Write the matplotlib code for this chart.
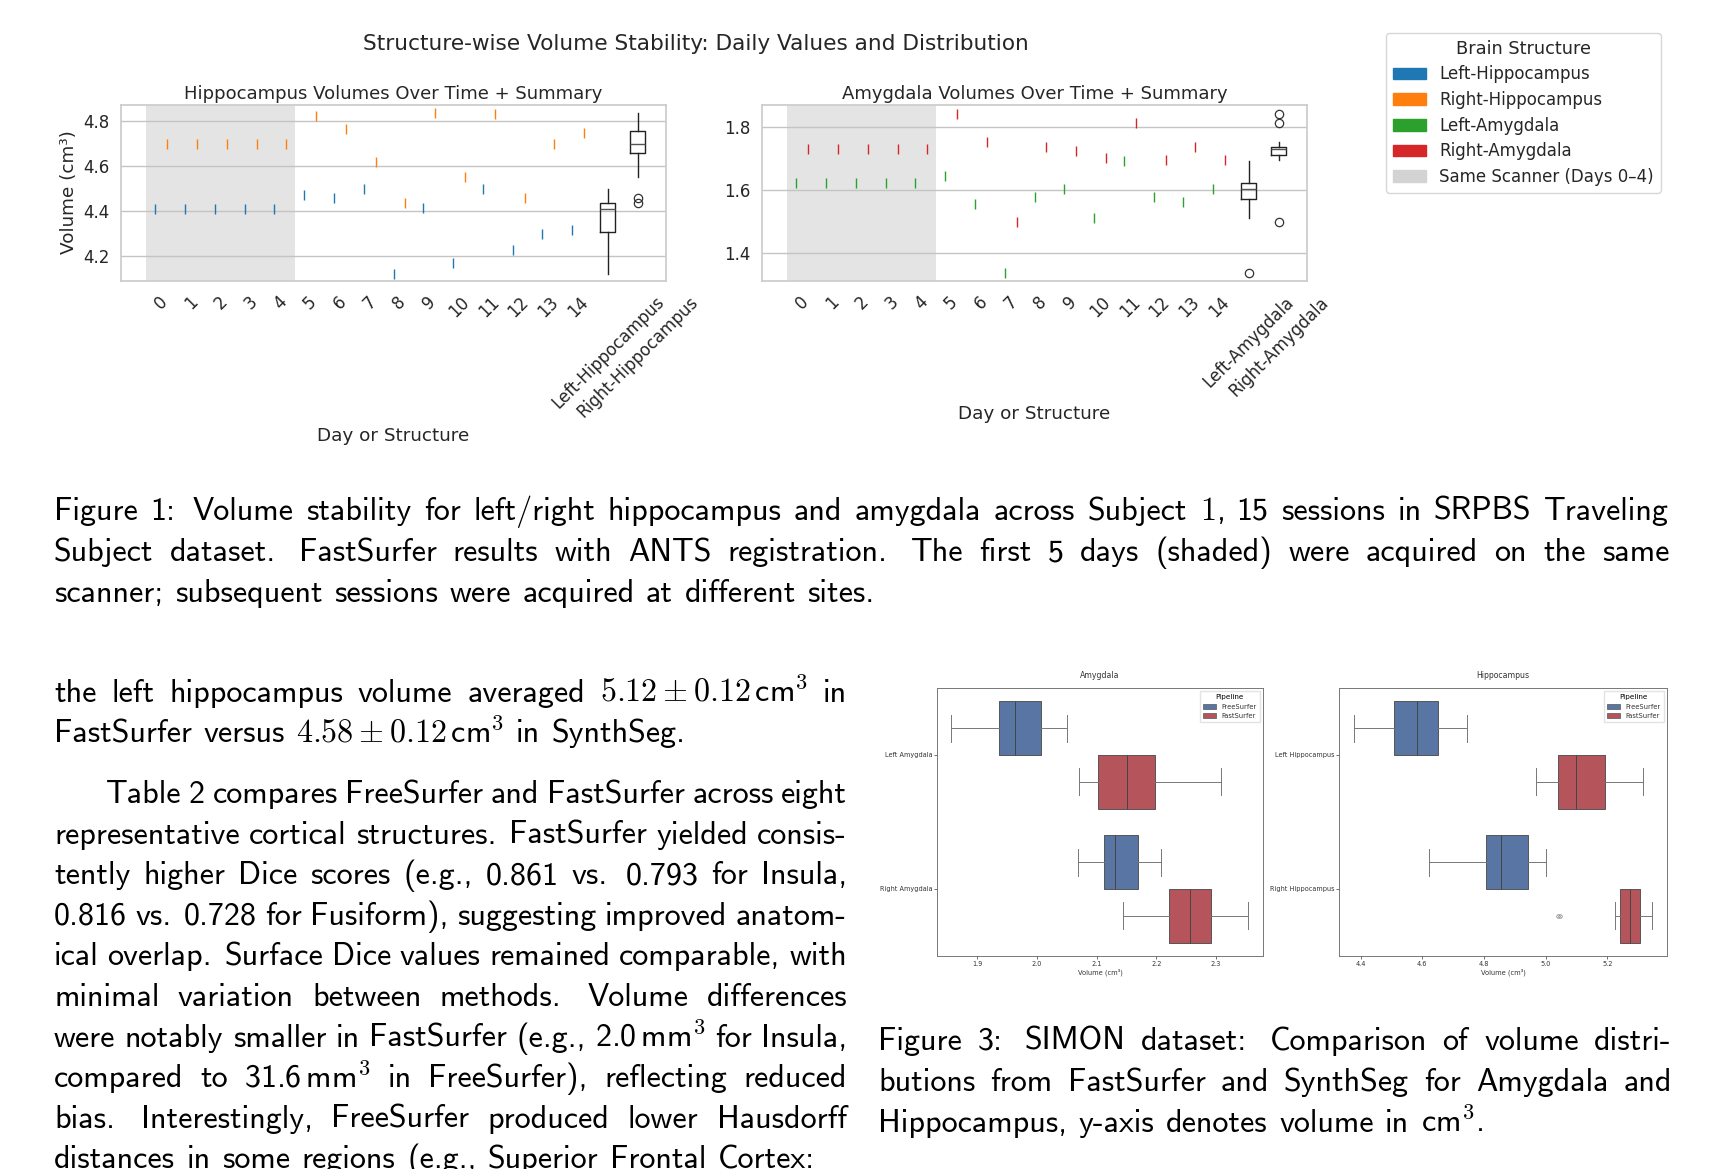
import matplotlib
matplotlib.use("Agg")
import matplotlib.pyplot as plt
from matplotlib.patches import Patch
import numpy as np

W, H, DPI = 1725, 1169, 100

# ---- Figure 1: daily volumes (cm^3) ----
days = np.arange(15)
left_hippo = [4.41, 4.41, 4.41, 4.41, 4.41, 4.47, 4.46, 4.50, 4.12, 4.415,
              4.17, 4.50, 4.23, 4.30, 4.315]
right_hippo = [4.70, 4.70, 4.70, 4.70, 4.70, 4.82, 4.765, 4.62, 4.435, 4.835,
               4.55, 4.83, 4.46, 4.70, 4.745]
left_amyg = [1.62, 1.62, 1.62, 1.62, 1.62, 1.645, 1.555, 1.337, 1.577, 1.604,
             1.51, 1.69, 1.578, 1.562, 1.602]
right_amyg = [1.73, 1.73, 1.73, 1.73, 1.73, 1.84, 1.75, 1.497, 1.735, 1.722,
              1.70, 1.81, 1.694, 1.737, 1.694]

# ---- Figure 3: box stats (whislo, q1, med, q3, whishi) ----
pipelines = ["FreeSurfer", "FastSurfer"]
amyg_labels = ["Left Amygdala", "Right Amygdala"]
hippo_labels = ["Left Hippocampus", "Right Hippocampus"]
amyg_free = [[1.857, 1.936, 1.964, 2.007, 2.051],
             [2.069, 2.112, 2.131, 2.169, 2.208]]
amyg_fast = [[2.071, 2.102, 2.151, 2.198, 2.308],
             [2.144, 2.221, 2.257, 2.291, 2.354]]
hippo_free = [[4.378, 4.507, 4.584, 4.650, 4.744],
              [4.622, 4.806, 4.856, 4.941, 5.002]]
hippo_fast = [[4.970, 5.039, 5.098, 5.191, 5.314],
              [5.225, 5.241, 5.274, 5.307, 5.343]]
hippo_fast_fliers = [[], [5.039, 5.046]]

# ---- page text ----
caption1 = [
    "Figure 1: Volume stability for left/right hippocampus and amygdala across Subject $1$, 15 sessions in SRPBS Traveling",
    "Subject dataset. FastSurfer results with ANTS registration. The first 5 days (shaded) were acquired on the same",
    "scanner; subsequent sessions were acquired at different sites.",
]
para1 = [
    r"the left hippocampus volume averaged $5.12\pm0.12\,\mathsf{cm}^3$ in",
    r"FastSurfer versus $4.58\pm0.12\,\mathsf{cm}^3$ in SynthSeg.",
]
para2 = [
    "Table 2 compares FreeSurfer and FastSurfer across eight",
    "representative cortical structures. FastSurfer yielded consis-",
    "tently higher Dice scores (e.g., 0.861 vs. 0.793 for Insula,",
    "0.816 vs. 0.728 for Fusiform), suggesting improved anatom-",
    "ical overlap. Surface Dice values remained comparable, with",
    "minimal variation between methods. Volume differences",
    r"were notably smaller in FastSurfer (e.g., 2.0$\,$mm$^{3}$ for Insula,",
    r"compared to 31.6$\,$mm$^{3}$ in FreeSurfer), reflecting reduced",
    "bias. Interestingly, FreeSurfer produced lower Hausdorff",
    "distances in some regions (e.g., Superior Frontal Cortex:",
]
caption3 = [
    "Figure 3: SIMON dataset: Comparison of volume distri-",
    "butions from FastSurfer and SynthSeg for Amygdala and",
    r"Hippocampus, y-axis denotes volume in cm$^{3}$.",
]

plt.rcParams["mathtext.fontset"] = "cm"
TXT = "#262626"
BLUE, ORANGE, GREEN, RED = "#1f77b4", "#ff7f0e", "#2ca02c", "#d62728"
SB_BLUE, SB_RED, SB_LINE = "#5875A4", "#B5545B", "#555555"

fig = plt.figure(figsize=(W / DPI, H / DPI), dpi=DPI)
fig.patch.set_facecolor("white")
renderer = fig.canvas.get_renderer()


def px_axes(x0, y0, x1, y1):
    return fig.add_axes([x0 / W, 1 - y1 / H, (x1 - x0) / W, (y1 - y0) / H])


def day_panel(ax, left, right, names, colors, title, ylim, yticks):
    ax.axvspan(-0.5, 4.5, color="lightgray", alpha=0.6, lw=0, zorder=0.2)
    ax.plot(days - 0.2, left, ls="none", marker="|", ms=7.5, mew=1.0,
            color=colors[0], zorder=3)
    ax.plot(days + 0.2, right, ls="none", marker="|", ms=7.5, mew=1.0,
            color=colors[1], zorder=3)
    line = dict(color="#222222", lw=1.0)
    ax.boxplot([left, right], positions=[15, 16], widths=0.5, showcaps=False,
               boxprops=line, whiskerprops=line,
               medianprops=dict(color="#555555", lw=1.0),
               flierprops=dict(marker="o", mfc="none", mec="#333333",
                               ms=6, mew=0.9),
               manage_ticks=False)
    ax.set_xlim(-1.35, 16.95)
    ax.set_ylim(*ylim)
    ax.set_yticks(yticks)
    ax.set_xticks(np.arange(17))
    ax.set_xticklabels([str(d) for d in days] + names, rotation=45)
    ax.grid(axis="y", color="#c4c4c4", lw=1.0)
    ax.set_axisbelow(True)
    ax.tick_params(length=0, labelsize=12, colors=TXT)
    ax.tick_params(axis="x", pad=9)
    ax.tick_params(axis="y", pad=8)
    for s in ax.spines.values():
        s.set_color("#cccccc")
        s.set_linewidth(1.25)
    ax.set_title(title, fontsize=13, color=TXT, pad=4)
    ax.set_xlabel("Day or Structure", fontsize=13.2, color=TXT)


ax1 = px_axes(121, 104.5, 666, 280.5)
day_panel(ax1, left_hippo, right_hippo, ["Left-Hippocampus", "Right-Hippocampus"],
          (BLUE, ORANGE), "Hippocampus Volumes Over Time + Summary",
          (4.093, 4.873), [4.2, 4.4, 4.6, 4.8])
ax1.set_ylabel("Volume (cm³)", fontsize=13.2, color=TXT)

ax2 = px_axes(762, 104.5, 1307, 280.5)
day_panel(ax2, left_amyg, right_amyg, ["Left-Amygdala", "Right-Amygdala"],
          (GREEN, RED), "Amygdala Volumes Over Time + Summary",
          (1.313, 1.870), [1.4, 1.6, 1.8])

fig.text(696 / W, 1 - 44 / H,
         "Structure-wise Volume Stability: Daily Values and Distribution",
         ha="center", va="center", fontsize=15.6, color=TXT)

handles = [Patch(color=c) for c in (BLUE, ORANGE, GREEN, RED, "lightgray")]
leg = fig.legend(handles, ["Left-Hippocampus", "Right-Hippocampus", "Left-Amygdala",
                           "Right-Amygdala", "Same Scanner (Days 0\u20134)"],
                 title="Brain Structure", loc="upper left",
                 bbox_to_anchor=(1386 / W, 1 - 33 / H), borderaxespad=0,
                 fontsize=12, title_fontsize=12.8, labelspacing=0.46,
                 edgecolor="#cccccc")
for t in leg.get_texts():
    t.set_color(TXT)
leg.get_title().set_color(TXT)


def pipeline_panel(ax, labels, free, fast, fast_fliers, title, xlim):
    sets = ((free, [[], []], -0.2, SB_BLUE), (fast, fast_fliers, 0.2, SB_RED))
    for vals, fl, off, col in sets:
        stats = [dict(whislo=v[0], q1=v[1], med=v[2], q3=v[3], whishi=v[4],
                      fliers=f) for v, f in zip(vals, fl)]
        ax.bxp(stats, positions=np.arange(len(labels)) + off, widths=0.4,
               orientation="horizontal", patch_artist=True,
               boxprops=dict(facecolor=col, edgecolor=SB_LINE, lw=0.7),
               whiskerprops=dict(color="#777777", lw=0.7),
               capprops=dict(color="#777777", lw=0.7),
               medianprops=dict(color="#444444", lw=0.7),
               flierprops=dict(marker="o", mfc="none", mec="#777777",
                               ms=2.5, mew=0.5),
               manage_ticks=False)
    ax.set_yticks(np.arange(len(labels)))
    ax.set_yticklabels(labels)
    ax.set_ylim(1.5, -0.5)
    ax.set_xlim(*xlim)
    ax.tick_params(labelsize=4.7, length=2, width=0.5, pad=1.5,
                   colors="#333333")
    for s in ax.spines.values():
        s.set_color("#777777")
        s.set_linewidth(0.7)
    ax.set_title(title, fontsize=5.6, color="#333333", pad=7)
    ax.set_xlabel("Volume (cm³)", fontsize=4.8, color="#333333", labelpad=1)
    lg = ax.legend([Patch(facecolor=SB_BLUE, edgecolor=SB_LINE, lw=0.5),
                    Patch(facecolor=SB_RED, edgecolor=SB_LINE, lw=0.5)],
                   pipelines, title="Pipeline", loc="upper right",
                   fontsize=4.9, title_fontsize=5.2, borderaxespad=0.5,
                   edgecolor="#dddddd", fancybox=False)
    for t in lg.get_texts():
        t.set_color("#333333")


ax3 = px_axes(937, 688, 1263, 956)
pipeline_panel(ax3, amyg_labels, amyg_free, amyg_fast, [[], []], "Amygdala",
               (1.833, 2.3785))
ax4 = px_axes(1339, 688, 1667, 956)
pipeline_panel(ax4, hippo_labels, hippo_free, hippo_fast, hippo_fast_fliers,
               "Hippocampus", (4.33, 5.393))

# ---- justified page text ----
BODY_PT = 23.1
SPACE = 0.36 * BODY_PT * DPI / 72


def set_line(line, x0, x1, y, justify=True):
    words = line.split(" ")
    arts = [fig.text(0, 1 - y / H, w, fontsize=BODY_PT, family="cmss10",
                     va="baseline", color="black") for w in words]
    widths = [a.get_window_extent(renderer).width for a in arts]
    weights = [1.4 if w.endswith((".", ":")) else 1.0 for w in words[:-1]]
    if justify and len(words) > 1:
        unit = (x1 - x0 - sum(widths)) / sum(weights)
    else:
        unit = SPACE
    x = x0
    for a, wd, k in zip(arts, widths, weights + [0.0]):
        a.set_x(x / W)
        x += wd + unit * k


def set_par(lines, x0, x1, y0, step, indent=0):
    for i, ln in enumerate(lines):
        set_line(ln, x0 + (indent if i == 0 else 0), x1, y0 + i * step,
                 justify=i < len(lines) - 1)


set_par(caption1, 54, 1669, 520, 41)
set_par(para1, 54, 847, 702, 40.5)
set_par(para2, 54, 847, 803, 40.6, indent=52)
set_par(caption3, 878, 1672, 1050, 41)

fig.savefig("out.png", dpi=DPI, facecolor="white")
